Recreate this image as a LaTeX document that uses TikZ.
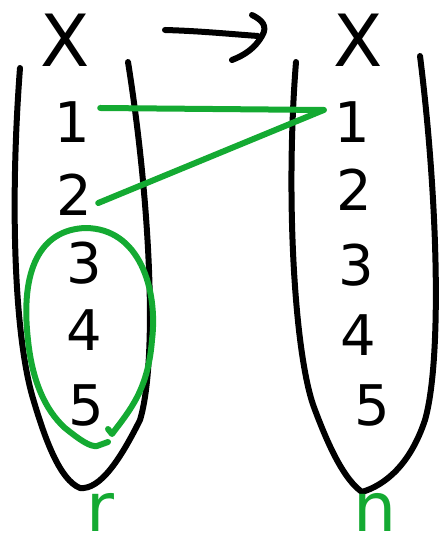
\documentclass[tikz,border=0pt]{standalone}
\usepackage{fontspec}
\setmainfont{DejaVu Sans}
\definecolor{hgreen}{RGB}{20,170,50}
\begin{document}
\begin{tikzpicture}[x=0.5pt,y=-0.5pt,
  ink/.style={line width=3pt,line cap=round,line join=round},
  gink/.style={ink,draw=hgreen},
  num/.style={font=\fontsize{28}{30}\selectfont,inner sep=1pt},
  big/.style={font=\fontsize{36}{38}\selectfont,inner sep=1pt},
  lab/.style={font=\fontsize{34}{36}\selectfont,inner sep=1pt,text=hgreen}]
\useasboundingbox (0,0) rectangle (445,549);
% labels X
\node[big] (XL) at (65,40) {X};
\node[big] (XR) at (358,40) {X};
\coordinate (a0) at (165,30);
\coordinate (a1) at (258,36);
\draw[ink] (a0) .. controls (200,31) and (230,34) .. (a1);
\draw[ink] (252,15) .. controls (262,20) and (268,26) .. (262,36) .. controls (255,48) and (245,55) .. (232,60);
% left set
\draw[ink] (20,68) .. controls (10,200) and (14,330) .. (32,395)
  .. controls (45,440) and (60,480) .. (80,488)
  .. controls (100,490) and (120,460) .. (140,420)
  .. controls (158,360) and (150,200) .. (128,62);
% right set
\draw[ink] (296,62) .. controls (285,200) and (295,360) .. (315,410)
  .. controls (330,450) and (345,480) .. (362,492)
  .. controls (385,485) and (410,465) .. (425,420)
  .. controls (442,360) and (438,200) .. (420,56);
% numbers
\node[num] (L1) at (72,122) {1};
\node[num] (L2) at (74,195) {2};
\node[num] (L3) at (84,263) {3};
\node[num] (L4) at (84,330) {4};
\node[num] (L5) at (86,405) {5};
\node[num] (R1) at (352,122) {1};
\node[num] (R2) at (354,190) {2};
\node[num] (R3) at (356,265) {3};
\node[num] (R4) at (358,335) {4};
\node[num] (R5) at (372,405) {5};
% green
\draw[gink] ([xshift=4pt,yshift=7pt]L1.east) -- ([xshift=-4pt,yshift=6pt]R1.west);
\draw[gink] ([xshift=2pt,yshift=-4pt]L2.east) -- ([xshift=-4pt,yshift=6pt]R1.west);
\draw[gink] (108,429) -- (112,434)
  .. controls (130,410) and (148,390) .. (152,340)
  .. controls (158,290) and (140,228) .. (85,228)
  .. controls (40,230) and (20,270) .. (28,340)
  .. controls (32,380) and (45,410) .. (65,428)
  .. controls (80,440) and (90,447) .. (97,446)
  -- (108,442);
\node[lab] (r) at (100,512) {r};
\node[lab] (n) at (375,512) {n};
\end{tikzpicture}
\end{document}
